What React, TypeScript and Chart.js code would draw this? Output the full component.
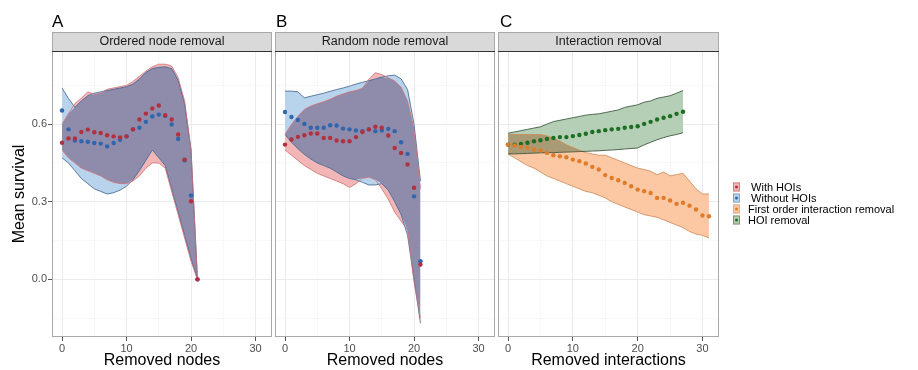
import React, { useEffect, useRef } from "react";
import { Chart, registerables } from "chart.js";

Chart.register(...registerables);

const FONT = "'Liberation Sans', Arial, Helvetica, sans-serif";

// ---------------- data ----------------
// Panel A: ordered node removal
const orderedNodes = [0, 1, 2, 3, 4, 5, 6, 7, 8, 9, 10, 11, 12, 13, 14, 15, 16, 17, 18, 19, 20, 21];
const orderedWithHOIs = [0.528, 0.545, 0.545, 0.570, 0.579, 0.569, 0.566, 0.557, 0.553, 0.549, 0.553, 0.58, 0.618, 0.641, 0.661, 0.672, 0.635, 0.618, 0.560, 0.463, 0.302, 0.0];
const orderedWithoutHOIs = [0.653, 0.58, 0.537, 0.534, 0.532, 0.527, 0.525, 0.514, 0.527, 0.540, 0.553, 0.58, 0.586, 0.609, 0.63, 0.637, 0.632, 0.599, 0.543, 0.46, 0.324, 0.0];
const orderedWithHi = [0.60, 0.64, 0.68, 0.70, 0.725, 0.715, 0.72, 0.735, 0.74, 0.745, 0.75, 0.765, 0.785, 0.805, 0.822, 0.832, 0.832, 0.825, 0.78, 0.69, 0.50, 0.0];
const orderedWithLo = [0.50, 0.47, 0.45, 0.43, 0.42, 0.41, 0.40, 0.385, 0.375, 0.37, 0.37, 0.38, 0.40, 0.43, 0.45, 0.45, 0.43, 0.34, 0.25, 0.16, 0.07, 0.0];
const orderedWithoutHi = [0.74, 0.70, 0.665, 0.69, 0.71, 0.72, 0.725, 0.73, 0.735, 0.74, 0.745, 0.755, 0.775, 0.80, 0.815, 0.82, 0.822, 0.815, 0.77, 0.68, 0.50, 0.0];
const orderedWithoutLo = [0.47, 0.45, 0.42, 0.39, 0.37, 0.35, 0.34, 0.33, 0.335, 0.345, 0.36, 0.385, 0.42, 0.46, 0.50, 0.47, 0.44, 0.35, 0.26, 0.17, 0.08, 0.0];

// Panel B: random node removal
const randomNodes = [0, 1, 2, 3, 4, 5, 6, 7, 8, 9, 10, 11, 12, 13, 14, 15, 16, 17, 18, 19, 20, 21];
const randomWithHOIs = [0.521, 0.541, 0.551, 0.557, 0.564, 0.564, 0.547, 0.547, 0.537, 0.534, 0.534, 0.55, 0.57, 0.58, 0.59, 0.586, 0.556, 0.508, 0.489, 0.444, 0.354, 0.057];
const randomWithoutHOIs = [0.647, 0.628, 0.616, 0.601, 0.586, 0.586, 0.586, 0.596, 0.595, 0.583, 0.58, 0.576, 0.573, 0.58, 0.573, 0.576, 0.582, 0.573, 0.53, 0.485, 0.321, 0.07];
const randomWithHi = [0.561, 0.599, 0.631, 0.657, 0.67, 0.679, 0.687, 0.696, 0.708, 0.717, 0.725, 0.73, 0.739, 0.774, 0.799, 0.792, 0.779, 0.767, 0.743, 0.689, 0.58, 0.35];
const randomWithLo = [0.50, 0.48, 0.46, 0.44, 0.425, 0.41, 0.40, 0.39, 0.38, 0.37, 0.355, 0.37, 0.39, 0.395, 0.385, 0.35, 0.31, 0.26, 0.225, 0.19, -0.01, -0.15];
const randomWithoutHi = [0.728, 0.728, 0.725, 0.702, 0.708, 0.714, 0.72, 0.727, 0.734, 0.74, 0.747, 0.755, 0.762, 0.768, 0.775, 0.782, 0.787, 0.79, 0.775, 0.734, 0.60, 0.38];
const randomWithoutLo = [0.56, 0.53, 0.505, 0.483, 0.465, 0.45, 0.44, 0.43, 0.415, 0.40, 0.39, 0.385, 0.375, 0.365, 0.365, 0.37, 0.345, 0.30, 0.25, 0.17, 0.0, -0.17];

// Panel C: interaction removal
const firstOrderSteps = [0, 1, 2, 3, 4, 5, 6, 7, 8, 9, 10, 11, 12, 13, 14, 15, 16, 17, 18, 19, 20, 21, 22, 23, 24, 25, 26, 27, 28, 29, 30, 31];
const firstOrderMean = [0.521, 0.518, 0.512, 0.509, 0.502, 0.498, 0.489, 0.48, 0.476, 0.472, 0.463, 0.457, 0.448, 0.435, 0.425, 0.403, 0.392, 0.383, 0.373, 0.36, 0.347, 0.341, 0.334, 0.315, 0.315, 0.305, 0.292, 0.296, 0.285, 0.27, 0.247, 0.244];
const firstOrderHi = [0.56, 0.56, 0.56, 0.56, 0.56, 0.56, 0.555, 0.545, 0.535, 0.52, 0.51, 0.50, 0.49, 0.485, 0.48, 0.48, 0.47, 0.46, 0.45, 0.44, 0.43, 0.425, 0.418, 0.405, 0.415, 0.40, 0.405, 0.41, 0.38, 0.35, 0.33, 0.33];
const firstOrderLo = [0.485, 0.47, 0.455, 0.44, 0.43, 0.415, 0.40, 0.39, 0.38, 0.37, 0.36, 0.35, 0.34, 0.335, 0.325, 0.315, 0.30, 0.29, 0.28, 0.27, 0.26, 0.25, 0.245, 0.24, 0.23, 0.22, 0.21, 0.20, 0.185, 0.175, 0.17, 0.16];
const hoiSteps = [0, 1, 2, 3, 4, 5, 6, 7, 8, 9, 10, 11, 12, 13, 14, 15, 16, 17, 18, 19, 20, 21, 22, 23, 24, 25, 26, 27];
const hoiMean = [0.521, 0.521, 0.524, 0.528, 0.534, 0.538, 0.543, 0.547, 0.55, 0.55, 0.554, 0.558, 0.563, 0.57, 0.573, 0.577, 0.58, 0.582, 0.586, 0.589, 0.592, 0.601, 0.609, 0.618, 0.625, 0.631, 0.64, 0.648];
const hoiHi = [0.565, 0.57, 0.575, 0.58, 0.585, 0.59, 0.60, 0.61, 0.615, 0.62, 0.625, 0.63, 0.635, 0.638, 0.64, 0.645, 0.65, 0.655, 0.665, 0.67, 0.675, 0.685, 0.69, 0.70, 0.705, 0.71, 0.72, 0.73];
const hoiLo = [0.485, 0.485, 0.486, 0.487, 0.488, 0.489, 0.49, 0.49, 0.491, 0.492, 0.493, 0.494, 0.495, 0.496, 0.497, 0.499, 0.50, 0.502, 0.504, 0.506, 0.508, 0.52, 0.53, 0.54, 0.548, 0.555, 0.56, 0.567];

// axes / labels
const xGrid = [0, 5, 10, 15, 20, 25, 30];
const xMajor = [0, 10, 20, 30];
const yGrid = [-0.15, 0, 0.15, 0.3, 0.45, 0.6, 0.75];
const yMajor = [0, 0.3, 0.6];
const X_MIN = -1.55, X_MAX = 32.55;
const Y_MIN = -0.223, Y_MAX = 0.883;

const stripTitles = ["Ordered node removal", "Random node removal", "Interaction removal"];
const panelLetters = ["A", "B", "C"];
const xTitles = ["Removed nodes", "Removed nodes", "Removed interactions"];
const yTitle = "Mean survival";
const legendLabels = [" With HOIs", " Without HOIs", "First order interaction removal", "HOI removal"];

// ---------------- styles ----------------
const C = {
  redPt: "#b3303e", bluePt: "#2f66ad", orangePt: "#e07b2a", greenPt: "#1c6e22",
  redFill: "#f2b6b7", blueFill: "#b7d4ec", rbOverlap: "#8f8bab",
  orangeFill: "#fcc8a3", greenFill: "#b5cfb6", ogOverlap: "#a89a74",
  redLine: "#cf6f73", blueLine: "#3f5f8f", orangeLine: "#cd8755", greenLine: "#2e4d30",
};
const legendFill = [C.redFill, C.blueFill, C.orangeFill, C.greenFill];
const legendEdge = [C.redLine, "#6f9fcf", "#f0a070", "#5f8f60"];
const legendDot = [C.redPt, C.bluePt, C.orangePt, C.greenPt];

const pts = (xs: number[], ys: number[]) => xs.map((x, i) => ({ x, y: ys[i] }));
const near = (arr: number[], v: number) => arr.some((a) => Math.abs(a - v) < 1e-6);

function band(xs: number[], hi: number[], lo: number[], color: string, order: number) {
  return [
    { data: pts(xs, hi), borderWidth: 0, pointRadius: 0, fill: "+1", backgroundColor: color, order },
    { data: pts(xs, lo), borderWidth: 0, pointRadius: 0, fill: false, order },
  ];
}
function overlap(xs: number[], hiA: number[], loA: number[], hiB: number[], loB: number[], color: string, order: number) {
  const hi = hiA.map((v, i) => Math.min(v, hiB[i]));
  const lo = loA.map((v, i) => Math.max(v, loB[i]));
  return [
    { data: pts(xs, hi), borderWidth: 0, pointRadius: 0, fill: { target: "+1", above: color, below: "rgba(0,0,0,0)" }, backgroundColor: color, order },
    { data: pts(xs, lo), borderWidth: 0, pointRadius: 0, fill: false, order },
  ];
}
function outline(xs: number[], ys: number[], color: string) {
  return { data: pts(xs, ys), borderWidth: 0.8, borderColor: color, pointRadius: 0, fill: false, order: 5 };
}
function dots(xs: number[], ys: number[], color: string) {
  return { data: pts(xs, ys), showLine: false, pointRadius: 2.2, pointBorderWidth: 0, pointBackgroundColor: color, order: 1 };
}

function makeDecor(idx: number, withLegend: boolean) {
  return {
    id: "decor" + idx,
    afterDraw(chart: any) {
      const { ctx, chartArea: a } = chart;
      ctx.save();
      ctx.lineWidth = 1;
      ctx.strokeStyle = "#a9a9a9";
      ctx.strokeRect(a.left + 0.5, a.top + 0.5, a.width - 1, a.height - 1);
      const sh = 19;
      const sTop = a.top - sh;
      ctx.fillStyle = "#d9d9d9";
      ctx.fillRect(a.left, sTop, a.width, sh);
      ctx.strokeStyle = "#a9a9a9";
      ctx.strokeRect(a.left + 0.5, sTop + 0.5, a.width - 1, sh);
      ctx.strokeStyle = "#333333";
      ctx.beginPath();
      ctx.moveTo(a.left, a.top + 0.5);
      ctx.lineTo(a.right, a.top + 0.5);
      ctx.stroke();
      ctx.fillStyle = "#1a1a1a";
      ctx.font = `12.5px ${FONT}`;
      ctx.textAlign = "center";
      ctx.textBaseline = "middle";
      ctx.fillText(stripTitles[idx], (a.left + a.right) / 2, sTop + sh / 2 + 0.5);
      ctx.fillStyle = "#000";
      ctx.font = `17px ${FONT}`;
      ctx.textAlign = "left";
      ctx.textBaseline = "alphabetic";
      ctx.fillText(panelLetters[idx], a.left + idx, 27);
      if (withLegend) {
        const kx = 733, kw = 7, kh = 9, y0 = 187, step = 11;
        ctx.font = `11px ${FONT}`;
        ctx.textBaseline = "middle";
        legendLabels.forEach((lab, i) => {
          const cy = y0 + i * step;
          ctx.fillStyle = legendFill[i];
          ctx.fillRect(kx, cy - kh / 2, kw, kh);
          ctx.strokeStyle = legendEdge[i];
          ctx.lineWidth = 0.8;
          ctx.strokeRect(kx + 0.5, cy - kh / 2 + 0.5, kw - 1, kh - 1);
          ctx.fillStyle = legendDot[i];
          ctx.beginPath();
          ctx.arc(kx + kw / 2, cy, 1.5, 0, Math.PI * 2);
          ctx.fill();
          ctx.fillStyle = "#000";
          ctx.fillText(lab, 748, cy + 0.5);
        });
      }
      ctx.restore();
    },
  };
}

function makeScales(idx: number) {
  const showY = idx === 0;
  return {
    x: {
      type: "linear",
      min: X_MIN,
      max: X_MAX,
      afterBuildTicks: (s: any) => { s.ticks = xGrid.map((v) => ({ value: v })); },
      afterFit: (s: any) => { s.height = 33; },
      ticks: {
        autoSkip: false, maxRotation: 0, padding: 1, color: "#4d4d4d",
        font: { family: FONT, size: 11 },
        callback: (v: number) => (near(xMajor, v) ? String(v) : ""),
      },
      grid: {
        color: (c: any) => (c.tick && near(xMajor, c.tick.value) ? "#ebebeb" : "#f4f4f4"),
        lineWidth: (c: any) => (c.tick && near(xMajor, c.tick.value) ? 1 : 0.6),
        tickColor: (c: any) => (c.tick && near(xMajor, c.tick.value) ? "#555555" : "rgba(0,0,0,0)"),
        tickLength: 4,
        tickWidth: 1,
      },
      border: { display: false },
      title: { display: true, text: xTitles[idx], color: "#000", font: { family: FONT, size: 16 }, padding: { top: 0, bottom: 0 } },
    },
    y: {
      type: "linear",
      min: Y_MIN,
      max: Y_MAX,
      afterBuildTicks: (s: any) => { s.ticks = yGrid.map((v) => ({ value: v })); },
      afterFit: (s: any) => { s.width = showY ? 52 : 0; },
      ticks: {
        display: showY, autoSkip: false, padding: 1, color: "#4d4d4d",
        font: { family: FONT, size: 11 },
        callback: (v: number) => (near(yMajor, v) ? v.toFixed(1) : ""),
      },
      grid: {
        color: (c: any) => (c.tick && near(yMajor, c.tick.value) ? "#ebebeb" : "#f4f4f4"),
        lineWidth: (c: any) => (c.tick && near(yMajor, c.tick.value) ? 1 : 0.6),
        tickColor: (c: any) => (c.tick && near(yMajor, c.tick.value) ? "#555555" : "rgba(0,0,0,0)"),
        drawTicks: showY,
        tickLength: 4,
      },
      border: { display: false },
      title: { display: showY, text: yTitle, color: "#000", font: { family: FONT, size: 16 }, padding: { top: 10, bottom: 0 } },
    },
  };
}

const panelBounds = [
  [52, 272],
  [275, 495],
  [498, 719],
];

function panelDatasets(idx: number): any[] {
  if (idx === 0 || idx === 1) {
    const xs = idx === 0 ? orderedNodes : randomNodes;
    const wHi = idx === 0 ? orderedWithHi : randomWithHi;
    const wLo = idx === 0 ? orderedWithLo : randomWithLo;
    const oHi = idx === 0 ? orderedWithoutHi : randomWithoutHi;
    const oLo = idx === 0 ? orderedWithoutLo : randomWithoutLo;
    const wM = idx === 0 ? orderedWithHOIs : randomWithHOIs;
    const oM = idx === 0 ? orderedWithoutHOIs : randomWithoutHOIs;
    return [
      ...band(xs, wHi, wLo, C.redFill, 12),
      ...band(xs, oHi, oLo, C.blueFill, 11),
      ...overlap(xs, wHi, wLo, oHi, oLo, C.rbOverlap, 10),
      outline(xs, wHi, C.redLine),
      outline(xs, wLo, C.redLine),
      outline(xs, oHi, C.blueLine),
      outline(xs, oLo, C.blueLine),
      dots(xs, wM, C.redPt),
      dots(xs, oM, C.bluePt),
    ];
  }
  return [
    ...band(hoiSteps, hoiHi, hoiLo, C.greenFill, 12),
    ...band(firstOrderSteps, firstOrderHi, firstOrderLo, C.orangeFill, 11),
    ...overlap(hoiSteps, hoiHi, hoiLo, firstOrderHi.slice(0, hoiSteps.length), firstOrderLo.slice(0, hoiSteps.length), C.ogOverlap, 10),
    outline(hoiSteps, hoiHi, C.greenLine),
    outline(hoiSteps, hoiLo, C.greenLine),
    outline(firstOrderSteps, firstOrderHi, C.orangeLine),
    outline(firstOrderSteps, firstOrderLo, C.orangeLine),
    dots(firstOrderSteps, firstOrderMean, C.orangePt),
    dots(hoiSteps, hoiMean, C.greenPt),
  ];
}

function Panel({ idx }: { idx: number }) {
  const ref = useRef<HTMLCanvasElement>(null);
  useEffect(() => {
    if (!ref.current) return;
    const [l, r] = panelBounds[idx];
    const chart = new Chart(ref.current, {
      type: "line",
      data: { datasets: panelDatasets(idx) },
      options: {
        animation: false,
        responsive: false,
        devicePixelRatio: 1,
        events: [],
        layout: { padding: { left: idx === 0 ? 0 : l, right: 918 - r, top: 51, bottom: 0 } },
        plugins: { legend: { display: false }, tooltip: { enabled: false } },
        scales: makeScales(idx) as any,
      },
      plugins: [makeDecor(idx, idx === 2)],
    } as any);
    return () => chart.destroy();
  }, [idx]);
  return (
    <canvas
      ref={ref}
      width={918}
      height={370}
      style={{ position: "absolute", left: 0, top: 0, width: 918, height: 370, pointerEvents: "none" }}
    />
  );
}

export default function App() {
  return (
    <div style={{ position: "fixed", left: 0, top: 0, width: 918, height: 370, background: "#ffffff", overflow: "hidden" }}>
      <Panel idx={0} />
      <Panel idx={1} />
      <Panel idx={2} />
    </div>
  );
}
